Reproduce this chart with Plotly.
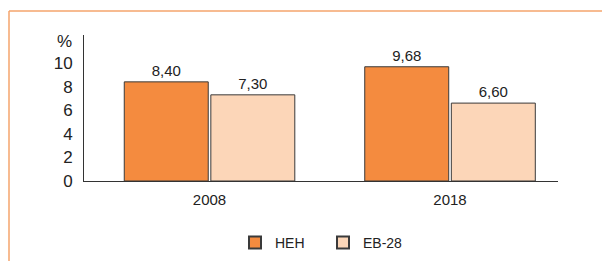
import plotly.graph_objects as go

categories = ["2008", "2018"]
heh_values = [8.40, 9.68]
eb_values = [7.30, 6.60]
heh_labels = ["8,40", "9,68"]
eb_labels = ["7,30", "6,60"]
tick_vals = [0, 2, 4, 6, 8, 10]

FONT = "Liberation Sans, Arial, sans-serif"
W, H = 602, 261
ml, mr, mt, mb = 84, 44, 35, 80
pw, ph = W - ml - mr, H - mt - mb

def px_x(px):
    return (px - ml) / pw

def px_y(py):
    return (H - mb - py) / ph

fig = go.Figure()
fig.add_trace(go.Bar(
    name="HEH", x=categories, y=heh_values, text=heh_labels,
    textposition="outside", cliponaxis=False,
    textfont=dict(size=15, color="#222"),
    marker=dict(color="#F48B3F", line=dict(color="#3a3a3a", width=1)),
))
fig.add_trace(go.Bar(
    name="EB-28", x=categories, y=eb_values, text=eb_labels,
    textposition="outside", cliponaxis=False,
    textfont=dict(size=15, color="#222"),
    marker=dict(color="#FCD6B8", line=dict(color="#3a3a3a", width=1)),
))

fig.update_layout(
    width=W, height=H,
    margin=dict(l=ml, r=mr, t=mt, b=mb, autoexpand=False),
    paper_bgcolor="white", plot_bgcolor="white",
    font=dict(family=FONT, color="#222"),
    barmode="group", bargap=0.28, bargroupgap=0.03,
    xaxis=dict(
        type="category", range=[-0.522, 1.449],
        showline=True, linecolor="#333", linewidth=1,
        showgrid=False, ticks="", tickfont=dict(size=15),
        ticklabelstandoff=5,
    ),
    yaxis=dict(
        range=[0, 12.37], tickvals=tick_vals,
        showline=True, linecolor="#333", linewidth=1,
        showgrid=False, zeroline=False, ticks="",
        tickfont=dict(size=17), ticklabelstandoff=7,
    ),
    legend=dict(
        orientation="h", xref="container", yref="container",
        x=235 / W, xanchor="left", y=(H - 243) / H, yanchor="middle",
        font=dict(size=14), itemsizing="constant", traceorder="normal",
        itemwidth=30, entrywidth=43, entrywidthmode="pixels",
    ),
    shapes=[
        dict(type="line", xref="paper", yref="paper",
             x0=px_x(9), x1=px_x(603), y0=px_y(11), y1=px_y(11),
             line=dict(color="#F4A46C", width=1.5)),
        dict(type="line", xref="paper", yref="paper",
             x0=px_x(9), x1=px_x(9), y0=px_y(11), y1=px_y(262),
             line=dict(color="#F4A46C", width=1.5)),
    ],
    annotations=[
        dict(text="%", xref="paper", yref="paper", x=px_x(74), y=px_y(41),
             xanchor="right", yanchor="middle", showarrow=False,
             font=dict(size=17, color="#222")),
    ],
)

fig.write_html("out.html", config={"displayModeBar": False})
with open("out.html", encoding="utf-8") as f:
    html = f.read()
html = html.replace("<head>", "<head><style>html,body{margin:0;padding:0;overflow:hidden}</style>", 1)
with open("out.html", "w", encoding="utf-8") as f:
    f.write(html)
